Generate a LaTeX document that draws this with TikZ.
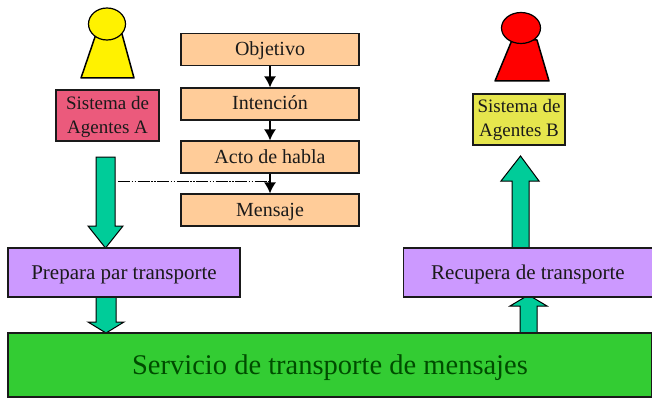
\documentclass[tikz,border=0pt]{standalone}
\usepackage{fontspec}
\setmainfont{Liberation Serif}
\usetikzlibrary{arrows.meta}
\definecolor{orangebox}{HTML}{FFCC99}
\definecolor{purplebox}{HTML}{CC99FF}
\definecolor{pinkbox}{HTML}{EB5A7C}
\definecolor{yellowbox}{HTML}{E6E64D}
\definecolor{greenbar}{HTML}{33CC33}
\definecolor{teal}{HTML}{00CC99}
\definecolor{ink}{HTML}{1A1A1A}
\tikzset{
  x=1pt,y=-1pt,
  box/.style={draw=ink,line width=1.2pt,inner sep=0pt,align=center,text=ink},
  stepbox/.style={box,fill=orangebox,minimum width=178pt,minimum height=32pt,text height=15pt,text depth=3pt,font=\fontsize{20}{24}\selectfont},
  transbox/.style={box,fill=purplebox,minimum height=49pt,text height=17pt,text depth=3pt,font=\fontsize{21}{24}\selectfont},
  agentbox/.style={box,minimum height=51pt,font=\fontsize{19}{24}\selectfont},
  link/.style={draw=black,line width=1.3pt,-{Latex[length=11pt,width=12pt]}},
  bigarrow/.style={draw=black,line width=1pt,fill=teal,line join=miter},
  pawnline/.style={draw=black,line width=1.5pt,line join=round},
}
\begin{document}
\begin{tikzpicture}
\useasboundingbox (0,0) rectangle (652,398);
% pawns
\filldraw[pawnline,fill=yellow] (96,34) -- (81,78) -- (134,78) -- (122,34) -- cycle;
\filldraw[draw=black,line width=1.2pt,fill=yellow] (107,24) ellipse [x radius=18.5,y radius=16];
\filldraw[pawnline,fill=red] (512,40) -- (495,81) -- (549,81) -- (537,40) -- cycle;
\filldraw[draw=black,line width=1.2pt,fill=red] (521,28) ellipse [x radius=19.5,y radius=15.5];
% agent boxes
\node[agentbox,fill=pinkbox,minimum width=103pt] (sa) at (107.5,115.5) {\strut\\[-24pt]Sistema de\\Agentes A};
\node[agentbox,fill=yellowbox,minimum width=92pt] (sb) at (519,119.5) {Sistema de\\Agentes B};
% steps
\node[stepbox] (obj) at (270,49.5) {Objetivo};
\node[stepbox] (int) at (270,104) {Intención};
\node[stepbox] (act) at (270,157) {Acto de habla};
\node[stepbox] (men) at (270,210) {Mensaje};
\draw[link] (obj) -- (int);
\draw[link] (int) -- (act);
\draw[link] (act) -- (men);
% big arrows
\filldraw[bigarrow] (96,157) -- (115,157) -- (115,226) -- (123,226) -- (105.5,248) -- (88,226) -- (96,226) -- cycle;
\filldraw[bigarrow] (96,297) -- (116,297) -- (116,322) -- (124,322) -- (106,333) -- (88,322) -- (96,322) -- cycle;
\filldraw[bigarrow] (512,248) -- (529,248) -- (529,181) -- (539,181) -- (520.5,156) -- (501,181) -- (512,181) -- cycle;
\filldraw[bigarrow] (520,333) -- (537,333) -- (537,306) -- (547,306) -- (528.5,295) -- (510,306) -- (520,306) -- cycle;
% transport boxes
\node[transbox,minimum width=232pt] (prep) at (124,272.5) {Prepara par transporte};
\node[transbox,minimum width=249pt] (recu) at (528,272.5) {Recupera de transporte};
\node[box,fill=greenbar,minimum width=644pt,minimum height=64pt,text height=22pt,text depth=3pt,font=\fontsize{28.5}{30}\selectfont,text=black!70!green] (serv) at (330,365) {Servicio de transporte de mensajes};
% dash-dot link
\coordinate (dstart) at (118,181);
\coordinate (dend) at (270,181);
\draw[black,line width=1pt,dash pattern=on 12pt off 1.5pt on 1.5pt off 1.5pt on 1.5pt off 1.5pt] (dstart) -- (dend);
\end{tikzpicture}
\end{document}
